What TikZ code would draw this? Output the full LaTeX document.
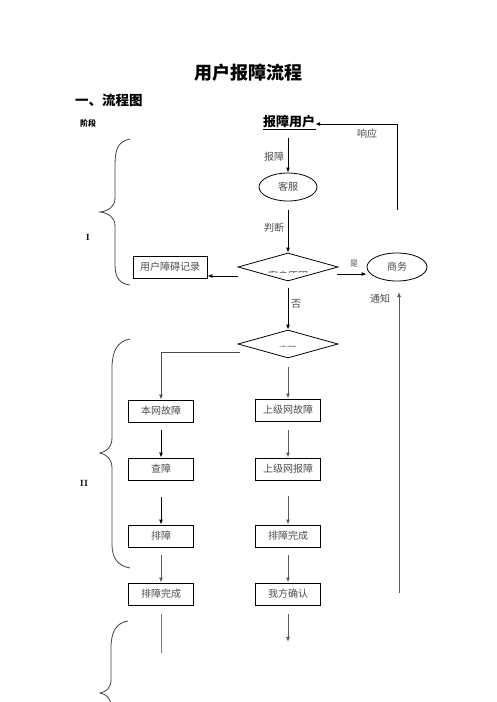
\documentclass[tikz,border=0pt]{standalone}
\usepackage{fontspec}
\newfontfamily\cjk{Noto Sans CJK SC}
\usetikzlibrary{arrows.meta,shapes.geometric}
\tikzset{
  box/.style={draw, line width=0.9pt, minimum width=65pt, minimum height=22pt, inner sep=0pt, font=\cjk\fontsize{10}{10}\selectfont, text=black!70},
  oval/.style={draw, ellipse, line width=0.8pt, minimum width=58pt, minimum height=28pt, inner sep=0pt, font=\cjk\fontsize{10}{10}\selectfont, text=black!70},
  dia/.style={draw, diamond, aspect=3.6, line width=0.8pt, minimum width=100pt, minimum height=28pt, inner sep=0pt},
  lbl/.style={font=\cjk\fontsize{10}{10}\selectfont, text=black!70, inner sep=0pt},
  arr/.style={line width=0.9pt, -{Latex[length=5pt,width=4pt]}},
  garr/.style={line width=1pt, draw=black!65, -{Latex[length=5pt,width=4pt]}},
  brace/.style={line width=0.8pt, draw=black!75}
}
\begin{document}
\begin{tikzpicture}[x=1pt,y=-1pt]
\useasboundingbox (0,0) rectangle (496,702);
% titles
\node[font=\cjk\bfseries\fontsize{18}{18}\selectfont] (title) at (248,73) {用户报障流程};
\node[font=\cjk\bfseries\fontsize{13.5}{14}\selectfont, anchor=west, inner sep=0pt] (sub) at (75,100) {一、流程图};
\node[font=\cjk\bfseries\fontsize{8}{8}\selectfont, anchor=west, inner sep=0pt] (stage) at (80,123) {阶段};
\node[font=\cjk\bfseries\fontsize{13}{13}\selectfont, inner sep=0pt] (user) at (289,122) {报障用户};
\coordinate (ulL) at (263,129); \coordinate (ulR) at (316,129);
\draw[line width=0.9pt] (ulL) -- (ulR);

% nodes
\node[oval] (kf) at (288,187) {客服};
\node[dia] (d1) at (288,267) {};
\node[box, minimum width=74pt] (rec) at (170,267) {用户障碍记录};
\node[oval, minimum width=60pt] (sw) at (397,267) {商务};
\node[dia] (d2) at (288,344) {};
\node[box] (bw) at (161,411) {本网故障};
\node[box] (sj) at (288,410) {上级网故障};
\node[box] (cz) at (161,469) {查障};
\node[box] (sb) at (288,469) {上级网报障};
\node[box] (pz) at (161,536) {排障};
\node[box] (wc2) at (288,536) {排障完成};
\node[box] (wc1) at (161,594) {排障完成};
\node[box] (qr) at (288,594) {我方确认};

% clipped diamond texts
\begin{scope}
\clip (238,253) rectangle (338,272.5);
\node[lbl] (t1) at (288,276) {客户原因};
\end{scope}
\begin{scope}
\clip (238,330) rectangle (338,346.5);
\node[lbl, font=\cjk\fontsize{9}{9}\selectfont] (t2) at (288,350) {查障};
\end{scope}

% connectors
\coordinate (r1) at (397,210);
\coordinate (r2) at (397,124);
\draw[arr] (r1) -- (r2) -- (user.east |- r2);
\node[lbl] (xy) at (367,134) {响应};

\coordinate (a1) at (288,138);
\draw[arr] (a1) -- (kf.north);
\node[lbl] (bz) at (274,157) {报障};
\coordinate (a2) at (288,210);
\draw[arr] (a2) -- (d1.north);
\node[lbl] (pd) at (274,228) {判断};

\coordinate (b1) at (238,276);
\draw[arr] (b1) -- (rec.east |- b1);
\coordinate (b2) at (337,274);
\draw[arr] (b2) -- (sw.west |- b2);
\node[lbl, font=\cjk\fontsize{8}{8}\selectfont] (shi) at (354,264) {是};
\node[lbl] (tz) at (380,299) {通知};
\coordinate (c1) at (399,593);
\coordinate (c2) at (399,292);
\draw[garr] (c1) -- (c2);

\coordinate (f1) at (288,288);
\draw[arr] (f1) -- (d2.north);
\node[lbl] (fou) at (296,304) {否};

\coordinate (g1) at (240,352);
\draw[arr, draw=black!70] (g1) -- (bw.north |- g1) -- (bw.north);
\coordinate (g2) at (288,367);
\draw[garr] (g2) -- (sj.north);

\coordinate (h1) at (161,430);
\draw[arr] (h1) -- (cz.north);
\coordinate (h2) at (288,430);
\draw[garr] (h2) -- (sb.north);
\coordinate (h3) at (161,497);
\draw[arr] (h3) -- (pz.north);
\coordinate (h4) at (288,496);
\draw[garr] (h4) -- (wc2.north);
\coordinate (h5) at (161,555);
\draw[garr] (h5) -- (wc1.north);
\coordinate (h6) at (288,555);
\draw[garr] (h6) -- (qr.north);
\coordinate (e1) at (161,614); \coordinate (e2) at (161,653);
\draw[line width=1pt, draw=black!55] (e1) -- (e2);
\coordinate (e3) at (288,614); \coordinate (e4) at (288,642);
\draw[garr] (e3) -- (e4);

% braces
\draw[brace] (130,139) .. controls (118,141) and (115,150) .. (115,165) -- (115,198)
  .. controls (115,207) and (108,211) .. (100,212)
  .. controls (108,213) and (115,217) .. (115,226) -- (115,265)
  .. controls (115,278) and (120,284) .. (130,285);
\draw[brace] (130,339) .. controls (117,341) and (112,352) .. (112,368) -- (112,438)
  .. controls (112,447) and (106,452) .. (100,453)
  .. controls (106,454) and (112,459) .. (112,468) -- (112,545)
  .. controls (112,558) and (118,566) .. (130,568);
\draw[brace] (128,621) .. controls (116,623) and (111,632) .. (111,648) -- (111,680)
  .. controls (111,688) and (106,692) .. (100,693)
  .. controls (106,694) and (111,698) .. (111,706);
\node[font=\bfseries\fontsize{9}{9}\selectfont] (n1) at (88,237) {I};
\node[font=\bfseries\fontsize{9}{9}\selectfont] (n2) at (84,483) {II};
\end{tikzpicture}
\end{document}
